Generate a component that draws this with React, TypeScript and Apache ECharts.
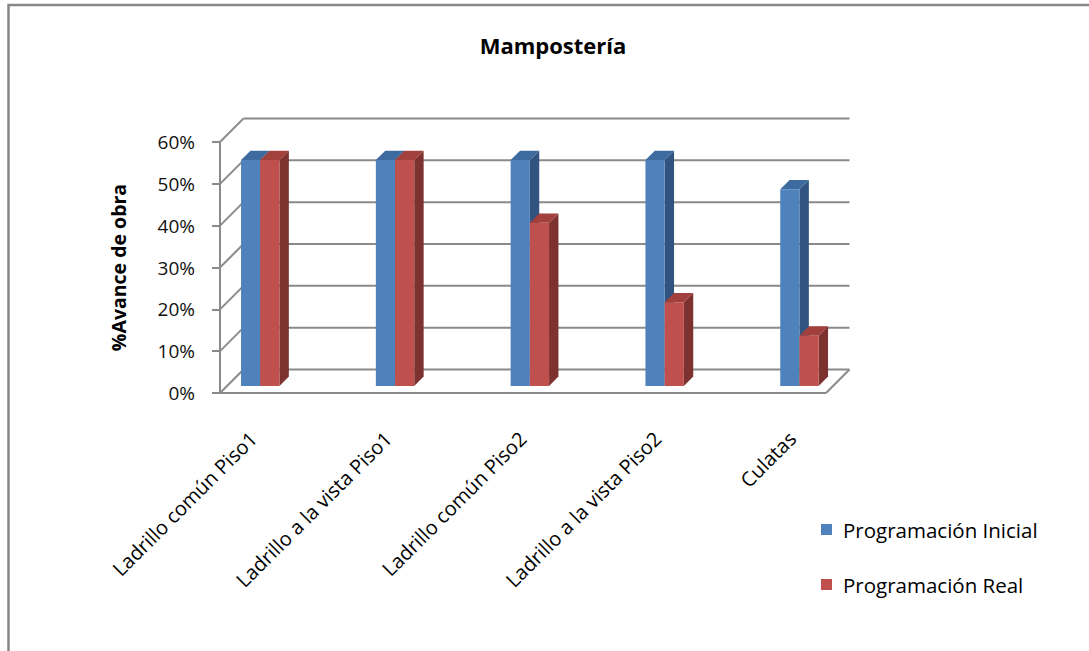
import { useEffect, useRef } from "react";
import * as echarts from "echarts";

// Chart data
const categories = [
  "Ladrillo común Piso1",
  "Ladrillo a la vista Piso1",
  "Ladrillo común Piso2",
  "Ladrillo a la vista Piso2",
  "Culatas",
];
const seriesNames = ["Programación Inicial", "Programación Real"];
const programacionInicial = [0.54, 0.54, 0.54, 0.54, 0.47];
const programacionReal = [0.54, 0.54, 0.39, 0.2, 0.12];
const wallTicks = [0, 0.1, 0.2, 0.3, 0.4, 0.5, 0.6];

// Pseudo-3D geometry (pixels)
const DEPTH_X = 23.5;
const DEPTH_Y = -23.5;
const BAR_FRONT = 0.3;
const BAR_BACK = 0.7;
const BAR_W = 19.2;

const FONT = "'Open Sans', 'Noto Sans', sans-serif";
const GRID_COLOR = "#8a8a8a";

const palette = {
  blue: { front: "#4F81BD", top: "#3E6B9F", side: "#31537F" },
  red: { front: "#C0504D", top: "#A2403D", side: "#7D3230" },
};

type Face = { front: string; top: string; side: string };

function barRenderer(offsetSide: -1 | 1, colors: Face) {
  return (_params: any, api: any) => {
    const idx = api.value(0);
    const v = api.value(1);
    const top = api.coord([idx, v]);
    const base = api.coord([idx, 0]);
    const fx = DEPTH_X * BAR_FRONT;
    const fy = DEPTH_Y * BAR_FRONT;
    const dx = DEPTH_X * (BAR_BACK - BAR_FRONT);
    const dy = DEPTH_Y * (BAR_BACK - BAR_FRONT);
    const x0 = (offsetSide < 0 ? top[0] - BAR_W : top[0]) + fx;
    const x1 = x0 + BAR_W;
    const yt = top[1] + fy;
    const yb = base[1] + fy;
    return {
      type: "group",
      children: [
        {
          type: "polygon",
          shape: { points: [[x1, yt], [x1 + dx, yt + dy], [x1 + dx, yb + dy], [x1, yb]] },
          style: { fill: colors.side },
        },
        {
          type: "polygon",
          shape: { points: [[x0, yt], [x1, yt], [x1 + dx, yt + dy], [x0 + dx, yt + dy]] },
          style: { fill: colors.top },
        },
        {
          type: "rect",
          shape: { x: x0, y: yt, width: BAR_W, height: yb - yt },
          style: { fill: colors.front },
        },
      ],
    };
  };
}

function wallRenderer(_params: any, api: any) {
  const v = api.value(1);
  const l = api.coord([0, v]);
  const r = api.coord([1, v]);
  const style = { stroke: GRID_COLOR, lineWidth: 2, fill: "none" };
  const children: any[] = [
    { type: "line", shape: { x1: l[0], y1: l[1], x2: l[0] + DEPTH_X, y2: l[1] + DEPTH_Y }, style },
    {
      type: "line",
      shape: { x1: l[0] + DEPTH_X, y1: l[1] + DEPTH_Y, x2: r[0] + DEPTH_X, y2: r[1] + DEPTH_Y },
      style,
    },
  ];
  if (v === 0) {
    children.push(
      { type: "line", shape: { x1: l[0], y1: l[1], x2: r[0], y2: r[1] }, style },
      { type: "line", shape: { x1: r[0], y1: r[1], x2: r[0] + DEPTH_X, y2: r[1] + DEPTH_Y }, style }
    );
  }
  return { type: "group", children };
}

export default function App() {
  const ref = useRef<HTMLDivElement>(null);

  useEffect(() => {
    if (!ref.current) return;
    const chart = echarts.init(ref.current, undefined, { renderer: "svg" });
    chart.setOption({
      animation: false,
      backgroundColor: "#ffffff",
      graphic: [
        {
          type: "rect",
          shape: { x: 8.5, y: 5, width: 1200, height: 800 },
          style: { fill: "none", stroke: "#878787", lineWidth: 2.5 },
          silent: true,
        },
        {
          type: "text",
          x: 553,
          y: 45,
          style: {
            text: "Mampostería",
            fontFamily: FONT,
            fontSize: 22,
            fontWeight: "bold",
            fill: "#000",
            textAlign: "center",
            textVerticalAlign: "middle",
          },
        },
      ],
      legend: {
        data: seriesNames,
        orient: "vertical",
        left: 821,
        top: 519,
        itemWidth: 11,
        itemHeight: 11,
        itemGap: 34,
        icon: "rect",
        padding: 0,
        textStyle: { fontFamily: FONT, fontSize: 20.5, color: "#000", padding: [0, 0, 0, 6] },
      },
      grid: [
        { left: 220, top: 142, width: 606, height: 251 },
        { left: 185.8, top: 142, width: 674, height: 251 },
      ],
      xAxis: [
        { type: "value", gridIndex: 0, min: 0, max: 1, show: false },
        {
          type: "category",
          gridIndex: 1,
          data: categories,
          axisLine: { show: false },
          axisTick: { show: false },
          axisLabel: {
            interval: 0,
            rotate: 45,
            margin: 42,
            fontFamily: FONT,
            fontSize: 20,
            color: "#000",
          },
        },
      ],
      yAxis: [
        {
          type: "value",
          gridIndex: 0,
          min: 0,
          max: 0.6,
          interval: 0.1,
          axisLine: { show: true, lineStyle: { color: GRID_COLOR, width: 2 } },
          axisTick: { show: true, length: 8, lineStyle: { color: GRID_COLOR, width: 2 } },
          splitLine: { show: false },
          axisLabel: {
            margin: 25,
            fontFamily: FONT,
            fontSize: 19,
            color: "#111",
            formatter: (v: number) => `${Math.round(v * 100)}%`,
          },
          name: "%Avance de obra",
          nameLocation: "middle",
          nameGap: 92,
          nameTextStyle: { fontFamily: FONT, fontSize: 19.5, fontWeight: "bold", color: "#000" },
        },
        { type: "value", gridIndex: 1, min: 0, max: 0.6, interval: 0.1, show: false },
      ],
      series: [
        {
          type: "custom",
          name: "walls",
          xAxisIndex: 0,
          yAxisIndex: 0,
          clip: false,
          silent: true,
          renderItem: wallRenderer,
          data: wallTicks.map((v) => [0, v]),
          encode: { x: 0, y: 1 },
          z: 1,
        },
        {
          type: "custom",
          name: seriesNames[0],
          xAxisIndex: 1,
          yAxisIndex: 1,
          clip: false,
          itemStyle: { color: palette.blue.front },
          renderItem: barRenderer(-1, palette.blue),
          data: programacionInicial.map((v, i) => [i, v]),
          encode: { x: 0, y: 1 },
          z: 2,
        },
        {
          type: "custom",
          name: seriesNames[1],
          xAxisIndex: 1,
          yAxisIndex: 1,
          clip: false,
          itemStyle: { color: palette.red.front },
          renderItem: barRenderer(1, palette.red),
          data: programacionReal.map((v, i) => [i, v]),
          encode: { x: 0, y: 1 },
          z: 3,
        },
      ],
    });
    return () => chart.dispose();
  }, []);

  return (
    <div
      ref={ref}
      style={{ position: "fixed", left: 0, top: 0, width: 1089, height: 651, background: "#fff" }}
    />
  );
}
